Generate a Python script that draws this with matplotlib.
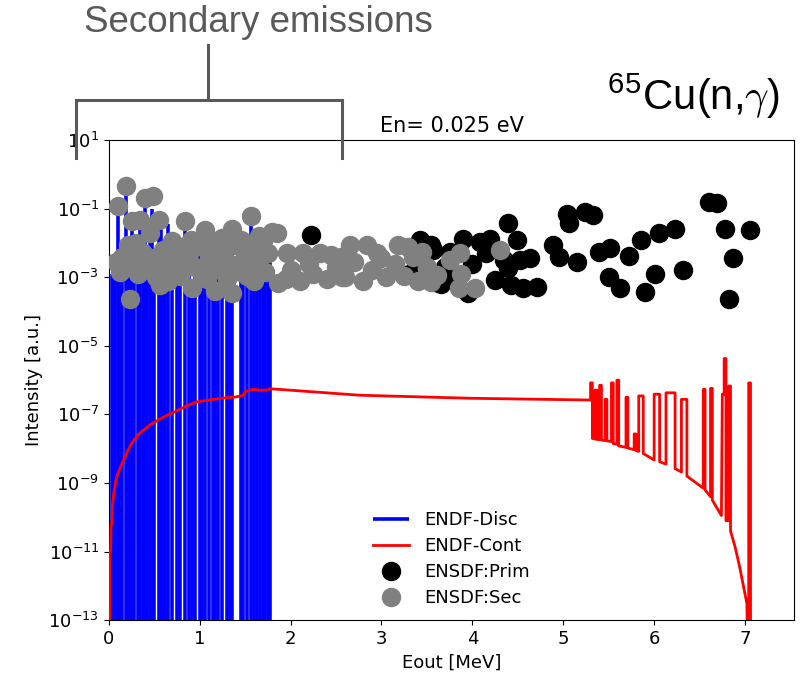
#!/usr/bin/env python3
"""
Gamma spectrum for 65Cu(n,gamma) at thermal energy: ENDF discrete and
continuum intensities compared with ENSDF primary and secondary gammas.
"""

import numpy as np
import matplotlib
matplotlib.use("Agg")
import matplotlib.pyplot as plt
from matplotlib.lines import Line2D

OUTPUT_PLOT = "out.png"

# --- ENDF discrete lines (energy in MeV, log10 intensity) ---
disc_e = [0.03, 0.05, 0.07, 0.10, 0.12, 0.15, 0.19, 0.21, 0.23, 0.25, 0.28, 0.32,
          0.34, 0.38, 0.40, 0.42, 0.45, 0.48, 0.50, 0.55, 0.57, 0.60, 0.62, 0.65,
          0.70, 0.75, 0.78, 0.84, 0.88, 0.91, 0.95, 1.00, 1.02, 1.06, 1.10, 1.15,
          1.17, 1.20, 1.25, 1.30, 1.33, 1.35, 1.45, 1.48, 1.52, 1.56, 1.60, 1.63,
          1.66, 1.70, 1.72, 1.75, 1.77]
disc_logi = [-2.9, -2.6, -2.4, -0.92, -2.84, -2.4, -0.34, -2.06, -3.0, -1.35, -2.5, -2.9,
             -1.33, -2.3, -0.70, -2.7, -1.70, -1.0, -2.45, -1.33, -1.4, -2.2, -2.8, -1.45,
             -2.5, -2.1, -2.95, -1.35, -2.3, -3.1, -2.7, -2.1, -2.9, -1.62, -2.4, -2.0,
             -3.0, -2.75, -2.25, -2.55, -1.9, -1.58, -2.85, -2.1, -2.35, -1.22, -2.7, -2.2,
             -2.4, -1.95, -2.85, -2.3, -1.67]

# --- ENDF continuum (polyline, energy in MeV, log10 intensity) ---
cont_e = [0.010, 0.012, 0.020, 0.025, 0.035, 0.04, 0.055, 0.07, 0.09, 0.12, 0.15, 0.18,
          0.21, 0.25, 0.29, 0.34, 0.40, 0.45, 0.50, 0.54, 0.60, 0.66, 0.72, 0.78,
          0.86, 0.92, 0.97, 1.05, 1.15, 1.30, 1.40, 1.48, 1.50, 1.59, 1.66, 1.75,
          1.77, 2.76, 4.00, 5.30,
          5.30, 5.32, 5.32, 5.35, 5.35, 5.37, 5.37, 5.40, 5.40, 5.42, 5.42, 5.46,
          5.46, 5.48, 5.48, 5.53, 5.53, 5.55, 5.55, 5.59, 5.59, 5.61, 5.61, 5.69,
          5.69, 5.71, 5.71, 5.78, 5.78, 5.80, 5.80, 5.83, 5.83, 5.88, 5.88, 6.00,
          6.00, 6.06, 6.06, 6.13, 6.13, 6.23, 6.23, 6.30, 6.30, 6.36, 6.36, 6.54,
          6.54, 6.56, 6.56, 6.62, 6.62, 6.64, 6.64, 6.74, 6.75, 6.77, 6.77, 6.79,
          6.79, 6.82, 6.82, 6.84, 6.84, 6.89, 6.94, 6.98, 7.02, 7.03, 7.04, 7.04,
          7.06, 7.06]
cont_logi = [-14.0, -11.0, -11.0, -10.2, -10.2, -9.65, -9.3, -9.05, -8.8, -8.6, -8.4, -8.24,
             -8.05, -7.85, -7.7, -7.55, -7.42, -7.31, -7.23, -7.17, -7.08, -7.0, -6.93, -6.85,
             -6.75, -6.68, -6.63, -6.6, -6.56, -6.51, -6.49, -6.44, -6.33, -6.27, -6.29, -6.29,
             -6.25, -6.44, -6.53, -6.58,
             -6.08, -6.08, -7.70, -7.72, -6.29, -6.29, -7.73, -7.74, -6.15, -6.15, -7.75, -7.76,
             -6.56, -6.56, -7.77, -7.79, -6.08, -6.08, -7.85, -7.87, -6.0, -6.0, -7.92, -7.96,
             -6.50, -6.50, -7.98, -8.03, -7.57, -7.57, -8.05, -8.08, -6.46, -6.46, -8.14, -8.33,
             -6.41, -6.41, -8.38, -8.45, -6.37, -6.37, -8.58, -8.68, -6.56, -6.56, -8.80, -9.15,
             -6.27, -6.27, -9.2, -9.4, -6.24, -6.24, -9.5, -9.95, -6.41, -6.41, -5.37, -5.37,
             -10.1, -10.1, -6.17, -6.17, -10.4, -10.86, -11.44, -11.98, -12.51, -14.0, -14.0, -6.08,
             -6.08, -14.0]

# --- ENSDF primary gammas ---
prim_e = [2.22, 3.42, 3.57, 3.59, 3.55, 3.75, 3.90, 3.95, 4.08, 4.19, 4.25, 4.39,
          4.39, 4.43, 4.49, 4.52, 4.56, 4.63, 4.71, 4.89, 4.95, 5.04, 5.06, 5.15,
          5.24, 5.33, 5.39, 5.51, 5.50, 5.62, 5.72, 5.86, 5.90, 6.01, 6.05, 6.23,
          6.32, 6.60, 6.69, 6.78, 6.87, 6.82, 7.05, 3.30, 3.45, 3.70, 3.80, 4.00,
          4.15, 3.65, 4.35]
prim_logi = [-1.77, -1.92, -2.21, -3.13, -2.06, -2.26, -1.87, -3.47, -1.97, -1.87, -3.08, -1.43,
             -2.74, -3.23, -1.92, -2.50, -3.32, -2.45, -3.28, -2.06, -2.40, -1.14, -1.43, -2.55,
             -1.09, -1.19, -2.26, -2.16, -2.99, -3.32, -2.38, -1.92, -3.42, -2.89, -1.72, -1.58,
             -2.79, -0.80, -0.83, -1.58, -2.45, -3.62, -1.62, -2.9, -2.5, -2.7, -2.95, -2.6,
             -2.3, -3.2, -2.5]

# --- ENSDF secondary gammas ---
sec_e = [0.10, 0.19, 0.40, 0.49, 0.25, 0.34, 0.55, 0.45, 0.84, 1.56, 0.21, 0.12,
         0.23, 0.56, 0.91, 1.17, 1.35, 1.86, 1.79, 1.35, 1.06, 1.85,
         0.15, 0.28, 0.32, 0.38, 0.42, 0.50, 0.60, 0.62, 0.70, 0.75, 0.78, 0.88,
         0.95, 1.00, 1.02, 1.10, 1.15, 1.20, 1.25, 1.30, 1.40, 1.45, 1.50, 1.55,
         1.60, 1.65, 1.70, 1.72, 1.75, 0.65, 1.30, 1.60, 0.30, 0.90, 1.25, 0.70,
         1.45, 1.65, 0.18, 0.85, 1.40, 0.08, 0.52, 1.08, 1.52,
         1.96, 2.14, 2.32, 2.45, 2.65, 2.84, 3.18, 3.29, 2.00, 2.10, 2.25, 2.40,
         2.50, 2.60, 2.70, 2.80, 2.90, 3.00, 3.05, 3.15, 3.25, 3.35, 3.40, 3.50,
         3.61, 3.75, 3.86, 3.88, 3.85, 4.03, 4.30, 2.55, 2.95, 3.45, 2.20, 1.95,
         3.55, 2.57]
sec_logi = [-0.92, -0.34, -0.70, -0.63, -1.35, -1.33, -1.33, -1.70, -1.35, -1.22, -2.06, -2.84,
            -3.62, -3.23, -3.32, -3.39, -3.47, -3.18, -1.67, -1.58, -1.62, -1.72,
            -2.4, -2.5, -2.9, -2.3, -2.7, -2.45, -2.2, -2.8, -2.5, -2.1, -2.95, -2.3,
            -2.7, -2.1, -2.9, -2.4, -2.0, -2.75, -2.25, -2.55, -2.05, -2.85, -2.35, -2.1,
            -2.7, -2.4, -1.95, -2.85, -2.3, -3.1, -3.05, -3.1, -2.0, -1.9, -1.85, -1.95,
            -1.9, -1.8, -2.7, -2.6, -2.65, -2.55, -3.0, -3.05, -2.95,
            -2.30, -2.30, -2.30, -2.35, -2.06, -2.06, -2.06, -2.11, -2.8, -3.1, -2.9, -3.05,
            -2.7, -3.0, -2.55, -3.1, -2.8, -2.45, -3.0, -2.6, -2.95, -2.4, -3.1, -2.7,
            -2.94, -2.50, -2.30, -2.89, -3.32, -3.30, -2.19, -2.4, -2.3, -2.25, -2.6, -3.05,
            -3.15, -3.0]


def plot_spectrum(output_file):
    plt.rcParams["font.family"] = "DejaVu Sans"
    fig = plt.figure(figsize=(8.12, 6.77), dpi=100)
    ax = fig.add_axes([0.134, 0.084, 0.844, 0.709])

    disc_i = 10.0 ** np.array(disc_logi)
    cont_i = 10.0 ** np.array(cont_logi)
    prim_i = 10.0 ** np.array(prim_logi)
    sec_i = 10.0 ** np.array(sec_logi)

    ax.vlines(disc_e, 1e-13, disc_i, colors="blue", lw=2.6, label="ENDF-Disc", zorder=2)
    ax.plot(cont_e, cont_i, color="red", lw=2, label="ENDF-Cont", zorder=3)
    ax.plot(prim_e, prim_i, "o", color="black", ms=13, ls="none",
            label="ENSDF:Prim", zorder=4)
    ax.plot(sec_e, sec_i, "o", color="gray", ms=13, ls="none",
            label="ENSDF:Sec", zorder=5)

    ax.set_yscale("log")
    ax.set_ylim(1e-13, 1e1)
    ax.set_xlim(0, 7.54)
    ax.set_yticks([10.0 ** p for p in range(1, -14, -2)])
    ax.yaxis.set_minor_locator(matplotlib.ticker.NullLocator())
    ax.set_xticks(range(0, 8))
    ax.tick_params(labelsize=13)
    ax.set_xlabel("Eout [MeV]", fontsize=13)
    ax.set_ylabel("Intensity [a.u.]", fontsize=13)
    ax.set_title("En= 0.025 eV", fontsize=15)

    ax.legend(loc="lower center", frameon=False, fontsize=13,
              labelspacing=0.45, borderaxespad=0.3)

    # annotation outside the axes, in pixel positions of the figure
    W, H = 812.0, 677.0
    grey = "#595959"

    def px(x, y):
        return x / W, 1 - y / H

    fig.text(*px(258, 23), "Secondary emissions", fontsize=26.5, color=grey,
             family="Liberation Sans", ha="center", va="center")
    for (x0, y0), (x1, y1) in [((208, 45), (208, 100)), ((76, 100), (342, 100)),
                               ((76, 100), (76, 158)), ((342, 100), (342, 158))]:
        (a0, b0), (a1, b1) = px(x0, y0), px(x1, y1)
        fig.add_artist(Line2D([a0, a1], [b0, b1], color=grey, lw=2.2,
                              solid_capstyle="projecting"))

    fig.text(*px(606, 110), r"$^{\mathdefault{65}}$Cu(n,$\gamma$)", fontsize=30,
             color="black", family="Liberation Sans", math_fontfamily="cm",
             ha="left", va="baseline")

    fig.savefig(output_file, dpi=100)
    print(f"Plot saved to {output_file}")


if __name__ == "__main__":
    plot_spectrum(OUTPUT_PLOT)
